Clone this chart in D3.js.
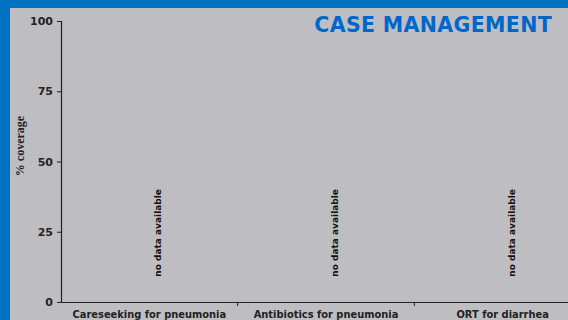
<!DOCTYPE html>
<html><head><meta charset="utf-8">
<script src="https://cdn.jsdelivr.net/npm/d3@7"></script>
<style>html,body{margin:0;padding:0;background:#0070C0;overflow:hidden}</style>
</head><body>
<script>
const categories = ["Careseeking for pneumonia", "Antibiotics for pneumonia", "ORT for diarrhea"];
const values = [null, null, null];
const missingLabel = "no data available";
const yTicks = [0, 25, 50, 75, 100];
const title = "CASE MANAGEMENT";
const yTitle = "% coverage";

const W = 568, H = 320;
const svg = d3.select("body").append("svg").attr("width", W).attr("height", H);
svg.append("rect").attr("x", 0).attr("y", 0).attr("width", W).attr("height", H).attr("fill", "#0070C0");
svg.append("rect").attr("x", 10).attr("y", 8).attr("width", W - 10).attr("height", H - 8).attr("fill", "#BEBEC2");

const x = d3.scaleBand().domain(categories).range([61, 591]).padding(0);
const y = d3.scaleLinear().domain([0, 100]).range([302, 21]);
const dark = "#222";

// y axis
const ya = svg.append("g").attr("transform", "translate(61,0)")
  .call(d3.axisLeft(y).tickValues(yTicks).tickSize(4).tickPadding(4));
ya.select(".domain").attr("stroke", dark).attr("stroke-width", 1.2);
ya.selectAll(".tick line").attr("stroke", dark);
ya.selectAll(".tick text").attr("fill", dark).attr("font-family", "DejaVu Sans").attr("font-weight", "bold").attr("font-size", 11);

// x axis
const xa = svg.append("g").attr("transform", "translate(0,302)")
  .call(d3.axisBottom(x).tickSize(0).tickPadding(9));
xa.select(".domain").attr("stroke", dark).attr("stroke-width", 1.2);
xa.selectAll(".tick text").attr("fill", dark).attr("font-family", "DejaVu Sans").attr("font-weight", "bold").attr("font-size", 9.9);
// divider ticks between categories
svg.append("g").selectAll("line").data(categories.slice(1)).join("line")
  .attr("x1", d => x(d)).attr("x2", d => x(d)).attr("y1", 302).attr("y2", 306)
  .attr("stroke", dark);

// no-data labels
svg.append("g").selectAll("text").data(categories.filter((c, i) => values[i] == null)).join("text")
  .attr("transform", d => `translate(${x(d) + x.bandwidth() * 0.56 + 1.5},${y(9)}) rotate(-90)`)
  .attr("font-family", "DejaVu Sans").attr("font-weight", "bold").attr("font-size", 9)
  .attr("fill", "#111").text(missingLabel);

// y title
svg.append("text").attr("transform", `translate(23.5,146) rotate(-90)`)
  .attr("text-anchor", "middle").attr("font-family", "Liberation Serif").attr("font-weight", "bold")
  .attr("font-size", 12).attr("fill", dark).text(yTitle);

// title
svg.append("text").attr("x", 552).attr("y", 32).attr("text-anchor", "end")
  .attr("font-family", "DejaVu Sans").attr("font-weight", "bold").attr("font-size", 20.5)
  .attr("letter-spacing", 0.35)
  .attr("fill", "#0066CC").text(title);
</script>
</body></html>
